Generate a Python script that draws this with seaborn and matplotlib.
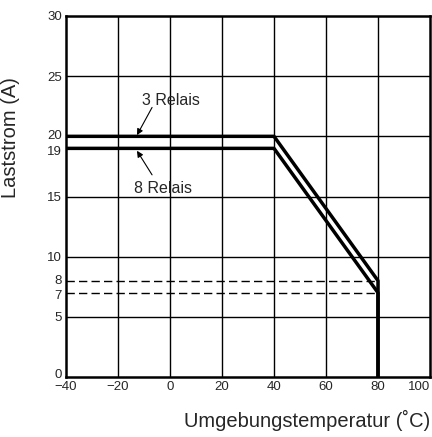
import matplotlib
matplotlib.use("Agg")
import matplotlib.pyplot as plt
import matplotlib.transforms as mtrans
import seaborn as sns
import pandas as pd

# Data
temp = [-40, 40, 80, 80]
relais3 = [20, 20, 8, 0]
relais8 = [19, 19, 7, 0]
series_names = ["3 Relais", "8 Relais"]
dash_levels = [8, 7]
dash_x = [-40, 80]
xticks = [-40, -20, 0, 20, 40, 60, 80, 100]
yticks = [0, 5, 7, 8, 10, 15, 19, 20, 25, 30]
grid_x = [-20, 0, 20, 40, 60, 80]
grid_y = [5, 10, 15, 20, 25]

sns.set_style("white")
plt.rcParams['font.family'] = ['Liberation Sans', 'DejaVu Sans']

df = pd.concat([
    pd.DataFrame({"T": temp, "I": relais3, "s": series_names[0], "o": range(4)}),
    pd.DataFrame({"T": temp, "I": relais8, "s": series_names[1], "o": range(4)}),
])

fig = plt.figure(figsize=(4.32, 4.37), dpi=100)
ax = fig.add_axes([66/432, 1-377/437, 364/432, 361/437])

for g in grid_x:
    ax.axvline(g, color="black", lw=1.0, zorder=1)
for g in grid_y:
    ax.axhline(g, color="black", lw=1.0, zorder=1)
for lv in dash_levels:
    ax.plot(dash_x, [lv, lv], color="black", lw=1.0, ls=(0, (6, 3)), zorder=1)

sns.lineplot(data=df, x="T", y="I", hue="s", units="s", sort=False,
             estimator=None, palette=["black", "black"], lw=2.5,
             legend=False, ax=ax, zorder=3)

ax.set_xlim(-40, 100)
ax.set_ylim(0, 30)
ax.set_xticks(xticks)
ax.set_yticks(yticks)
ax.tick_params(length=0, labelsize=9.5, pad=3)
xl = ax.get_xticklabels()
xl[-1].set_horizontalalignment("right")
yl = ax.get_yticklabels()
shifts = {0: 4, 2: -1.5, 3: 1.5, 6: -2, 7: 2}
for i, dy in shifts.items():
    yl[i].set_transform(yl[i].get_transform() +
                        mtrans.ScaledTranslation(0, dy/100, fig.dpi_scale_trans))
for sp in ax.spines.values():
    sp.set_color("black")
    sp.set_linewidth(1.8)

ax.set_xlabel("Umgebungstemperatur (˚C)", fontsize=14.5, loc="right", labelpad=12)
ax.set_ylabel("Laststrom (A)", fontsize=14.5)
ax.yaxis.set_label_coords(-0.126, 0.662)

arrow = dict(arrowstyle="-|>", color="black", lw=0.8, mutation_scale=9,
             shrinkA=0, shrinkB=0)
ax.text(0.5, 23.0, series_names[0], fontsize=11.5, ha="center", va="center")
ax.annotate("", xy=(-12.7, 20.1), xytext=(-6.9, 22.4), arrowprops=arrow)
ax.text(-2.5, 15.7, series_names[1], fontsize=11.5, ha="center", va="center")
ax.annotate("", xy=(-12.7, 18.8), xytext=(-6.9, 16.8), arrowprops=arrow)

fig.savefig("out.png", dpi=100)
